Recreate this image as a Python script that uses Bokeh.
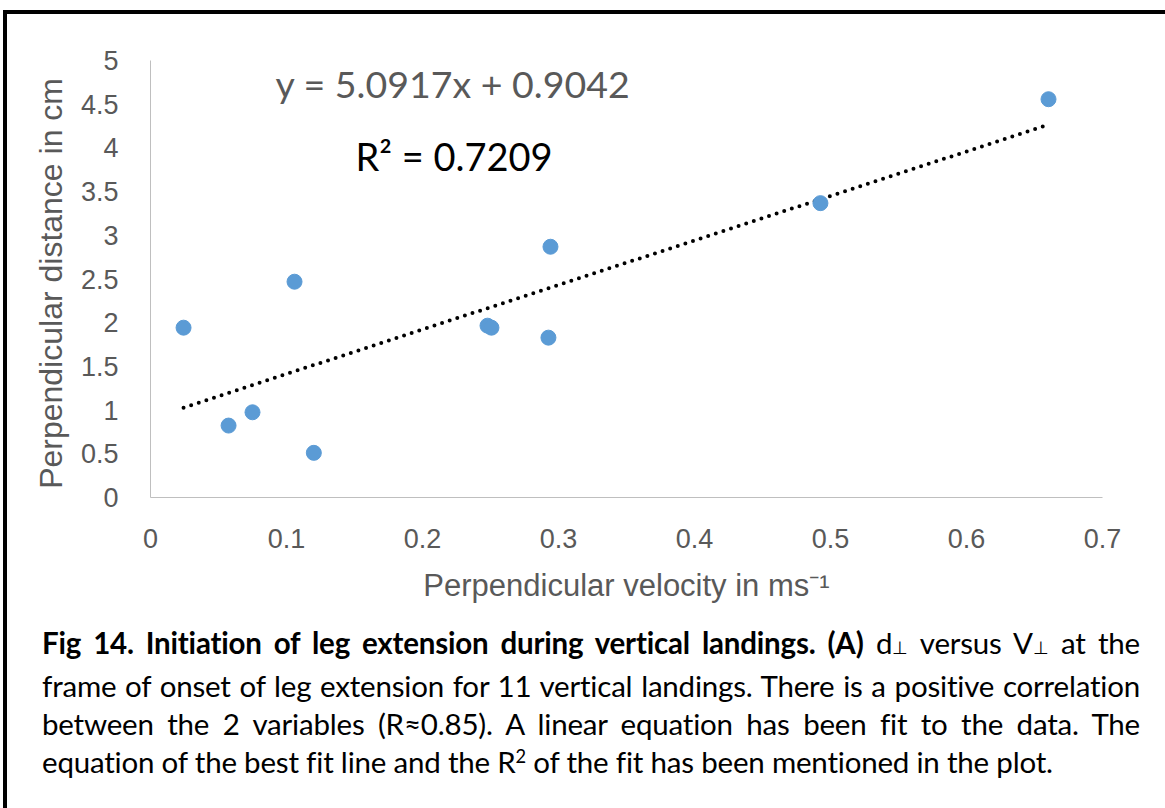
from bokeh.plotting import figure
from bokeh.models import Range1d, FixedTicker, Label, Div, ColumnDataSource
from bokeh.layouts import column
from bokeh.embed import file_html
from bokeh.resources import INLINE

# ---------------- data ----------------
velocity = [0.0243, 0.0574, 0.0750, 0.1059, 0.1201, 0.2478, 0.2507, 0.2941, 0.2926, 0.4926, 0.6603]
distance = [1.943, 0.823, 0.975, 2.469, 0.511, 1.966, 1.943, 2.869, 1.829, 3.368, 4.557]

fit_slope = 5.0917
fit_intercept = 0.9042
fit_r2 = 0.7209

x_ticks = [0, 0.1, 0.2, 0.3, 0.4, 0.5, 0.6, 0.7]
x_tick_labels = ["0", "0.1", "0.2", "0.3", "0.4", "0.5", "0.6", "0.7"]
y_ticks = [0, 0.5, 1, 1.5, 2, 2.5, 3, 3.5, 4, 4.5, 5]
y_tick_labels = ["0", "0.5", "1", "1.5", "2", "2.5", "3", "3.5", "4", "4.5", "5"]

x_title = "Perpendicular velocity in ms\u207b\u00b9"
y_title = "Perpendicular distance  in cm"

caption_bold = "Fig 14. Initiation of leg extension during vertical landings. (A)"
caption_line1_rest = "d<span style='font-size:0.6em'>\u22a5</span> versus V<span style='font-size:0.6em'>\u22a5</span> at the"
caption_line2 = "frame of onset of leg extension for 11 vertical landings. There is a positive correlation"
caption_line3 = "between the 2 variables (R\u22480.85). A linear equation has been fit to the data. The"
caption_line4 = ("equation of the best fit line and the R<span style='font-size:0.62em;vertical-align:0.55em;"
                 "line-height:0'>2</span> of the fit has been mentioned in the plot.")

# ---------------- figure ----------------
GRAY = "#595959"
AXIS = "#bfbfbf"

p = figure(width=1158, height=598,
           x_range=Range1d(0, 0.7), y_range=Range1d(0, 5),
           output_backend="svg", toolbar_location=None,
           min_border_left=143, min_border_right=63,
           min_border_top=46, min_border_bottom=115)
p.grid.visible = False
p.outline_line_color = None
p.background_fill_color = "white"
p.border_fill_color = "white"

# trend line computed from the fit equation over the data span
x0, x1 = min(velocity), max(velocity)
trend_src = ColumnDataSource(dict(x=[x0, x1],
                                  y=[fit_slope * x0 + fit_intercept, fit_slope * x1 + fit_intercept]))
p.line("x", "y", source=trend_src, line_color="black", line_width=4,
       line_dash="0 8", line_cap="round")

pts = ColumnDataSource(dict(x=velocity, y=distance))
p.scatter("x", "y", source=pts, size=15, fill_color="#5b9bd5", line_color="#5b9bd5")

for ax, ticks, labels in ((p.xaxis[0], x_ticks, x_tick_labels), (p.yaxis[0], y_ticks, y_tick_labels)):
    ax.ticker = FixedTicker(ticks=ticks)
    ax.major_label_overrides = {t: l for t, l in zip(ticks, labels)}
    ax.axis_line_color = AXIS
    ax.axis_line_width = 1
    ax.major_tick_line_color = None
    ax.minor_tick_line_color = None
    ax.major_tick_out = 0
    ax.major_tick_in = 0
    ax.major_label_text_font = "Liberation Sans"
    ax.major_label_text_font_size = "27px"
    ax.major_label_text_color = GRAY
    ax.axis_label_text_font = "Liberation Sans"
    ax.axis_label_text_font_style = "normal"
    ax.axis_label_text_color = GRAY

p.xaxis[0].axis_label = x_title
p.yaxis[0].axis_label = y_title
p.xaxis[0].axis_label_text_font_size = "31px"
p.yaxis[0].axis_label_text_font_size = "32px"
p.xaxis[0].major_label_standoff = 31
p.xaxis[0].axis_label_standoff = 17
p.yaxis[0].major_label_standoff = 32
p.yaxis[0].axis_label_standoff = 9

eq_text = f"y = {fit_slope}x + {fit_intercept}"
r2_text = f"R\u00b2 = {fit_r2}"
p.add_layout(Label(x=0.0919, y=4.74, text=eq_text, text_font="Lato", text_font_size="37.5px",
                   text_color=GRAY, text_baseline="alphabetic", text_align="left"))
p.add_layout(Label(x=0.1507, y=3.91, text=r2_text, text_font="Lato", text_font_size="38px",
                   text_color="black", text_baseline="alphabetic", text_align="left"))

# ---------------- caption ----------------
just = "text-align:justify;text-align-last:justify;white-space:nowrap;"
html = (
    "<div style='font-family:Lato;font-size:29.5px;letter-spacing:-0.2px;line-height:38px;color:#000;"
    "width:1098px;margin:7px 0 0 30px;'>"
    f"<div style='{just}'><b>{caption_bold}</b> {caption_line1_rest}</div>"
    f"<div style='{just}'>{caption_line2}</div>"
    f"<div style='{just}'>{caption_line3}</div>"
    f"<div style='text-align:left;white-space:nowrap;'>{caption_line4}</div>"
    "</div>"
)
cap = Div(text=html, width=1158, height=190)

layout = column(p, cap, spacing=0,
                styles={"border-left": "4px solid black", "border-top": "4px solid black"},
                margin=(10, 0, 0, 3))

open("out.html", "w").write(file_html(layout, INLINE))
